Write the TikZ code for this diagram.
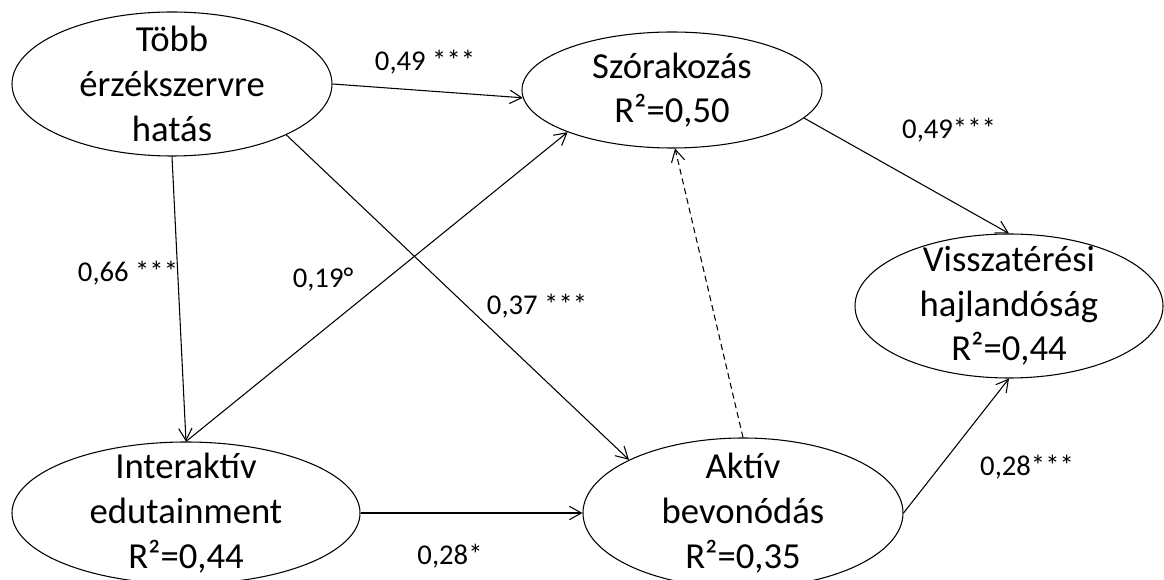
\documentclass[tikz,border=0pt]{standalone}
\usepackage{fontspec}
\setmainfont{Carlito}
\usetikzlibrary{shapes.geometric}
\usetikzlibrary{arrows.meta}
\tikzset{construct/.style={ellipse,draw,line width=0.8pt,inner sep=0pt},
 ctext/.style={align=center,inner sep=0pt,font=\fontsize{27.5}{33.5}\selectfont},
 coef/.style={inner sep=0pt,font=\fontsize{21.5}{25}\selectfont},
 effect/.style={draw,line width=0.8pt,->},
 weak/.style={effect,dash pattern=on 4.5pt off 3pt},
 >={Straight Barb[length=9pt,width=10pt]},
 }

\begin{document}
\begin{tikzpicture}[x=0.75pt,y=-0.75pt]
        \useasboundingbox (0,0) rectangle (1164,580);
        % constructs
        \node [construct, minimum width=240pt, minimum height=108pt] (tobb) at (172,84) {};
        \node [construct, minimum width=225pt, minimum height=87pt] (szor) at (672,90) {};
        \node [construct, minimum width=231pt, minimum height=108pt] (vissza) at (1009,306) {};
        \node [construct, minimum width=261pt, minimum height=106.5pt] (inter) at (186,513) {};
        \node [construct, minimum width=240pt, minimum height=112.5pt] (aktiv) at (743,513) {};
        \node [ctext] (tobbtext) at (tobb) {Több\\érzékszervre\\hatás};
        \node [ctext] (szortext) at (szor) {Szórakozás\\R²=0,50};
        \node [ctext] (visszatext) at (vissza) {Visszatérési\\hajlandóság\\R²=0,44};
        \node [ctext] (intertext) at (inter) {Interaktív\\edutainment\\R²=0,44};
        \node [ctext] (aktivtext) at (aktiv) {Aktív\\bevonódás\\R²=0,35};
        % paths
        \draw [effect] (tobb.east) -- (szor.183);
        \draw [effect] (tobb.south) -- (inter.north);
        \draw [effect] (tobb.-24) -- (aktiv.155);
        \draw [effect] (inter.north) -- (szor.202);
        \draw [effect] (szor.-12) -- (vissza.north);
        \draw [effect] (inter.east) -- (aktiv.west);
        \draw [effect] (aktiv.east) -- (vissza.south);
        \draw [weak] (aktiv.north) -- (szor.-87);
        % coefficients
        \node [coef] (ctobbszor) at (425,62) {0,49 ***};
        \node [coef] (cszorvissza) at (949,130) {0,49***};
        \node [coef] (ctobbinter) at (128,273) {0,66 ***};
        \node [coef] (cinterszor) at (323,280) {0,19°};
        \node [coef] (ctobbaktiv) at (537,306) {0,37 ***};
        \node [coef] (caktivvissza) at (1027,467) {0,28***};
        \node [coef] (cinteraktiv) at (450,556) {0,28*};
    \end{tikzpicture}
\end{document}
